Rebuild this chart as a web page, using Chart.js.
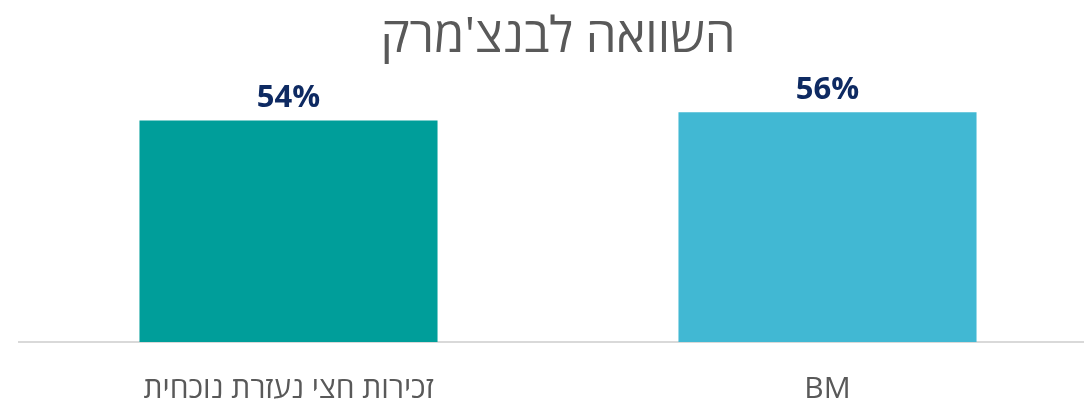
<!DOCTYPE html>
<html lang="he">
<head>
<meta charset="utf-8">
<title>השוואה לבנצ'מרק</title>
<script src="https://cdn.jsdelivr.net/npm/chart.js@4/dist/chart.umd.min.js"></script>
<style>
  html, body { margin: 0; padding: 0; background: #ffffff; overflow: hidden; }
  #wrap { width: 1100px; height: 436px; }
</style>
</head>
<body>
<div id="wrap"><canvas id="benchChart" width="1100" height="436"></canvas></div>
<script>
// Chart data
const categories = ['זכירות חצי נעזרת נוכחית', 'BM'];
const values = [54, 56];
const barColors = ['#009E9A', '#41B8D3'];
const chartTitle = "השוואה לבנצ'מרק";

// Percent labels drawn above each bar
const valueLabels = {
    id: 'valueLabels',
    afterDatasetsDraw(chart) {
        const ctx = chart.ctx;
        const meta = chart.getDatasetMeta(0);
        ctx.save();
        ctx.font = 'bold 31px "Open Sans", "Noto Sans", sans-serif';
        ctx.fillStyle = '#0E2A62';
        ctx.textAlign = 'center';
        ctx.textBaseline = 'alphabetic';
        meta.data.forEach((bar, i) => {
            ctx.fillText(values[i] + '%', bar.x, bar.y - 13);
        });
        ctx.restore();
    }
};

document.addEventListener('DOMContentLoaded', () => {
    const ctx = document.getElementById('benchChart').getContext('2d');

    new Chart(ctx, {
        type: 'bar',
        data: {
            labels: categories,
            datasets: [{
                data: values,
                backgroundColor: barColors,
                borderWidth: 0,
                categoryPercentage: 1,
                barPercentage: 0.553
            }]
        },
        options: {
            responsive: false,
            animation: false,
            layout: { padding: { left: 19, right: 3, top: 0, bottom: 0 } },
            scales: {
                x: {
                    grid: { display: false, drawTicks: false },
                    border: { display: true, color: '#D9D9D9', width: 2 },
                    ticks: {
                        color: '#595959',
                        padding: 29,
                        font: { family: '"Open Sans", "DejaVu Sans", sans-serif', size: 30, lineHeight: 1.2 }
                    }
                },
                y: {
                    display: false,
                    min: 0,
                    max: 60
                }
            },
            plugins: {
                legend: { display: false },
                tooltip: { enabled: false },
                title: {
                    display: true,
                    text: chartTitle,
                    color: '#595959',
                    padding: { top: 9, bottom: 28 },
                    font: { family: '"Open Sans", "DejaVu Sans", sans-serif', size: 49, weight: 'normal', lineHeight: 1.2 }
                }
            }
        },
        plugins: [valueLabels]
    });
});
</script>
</body>
</html>
